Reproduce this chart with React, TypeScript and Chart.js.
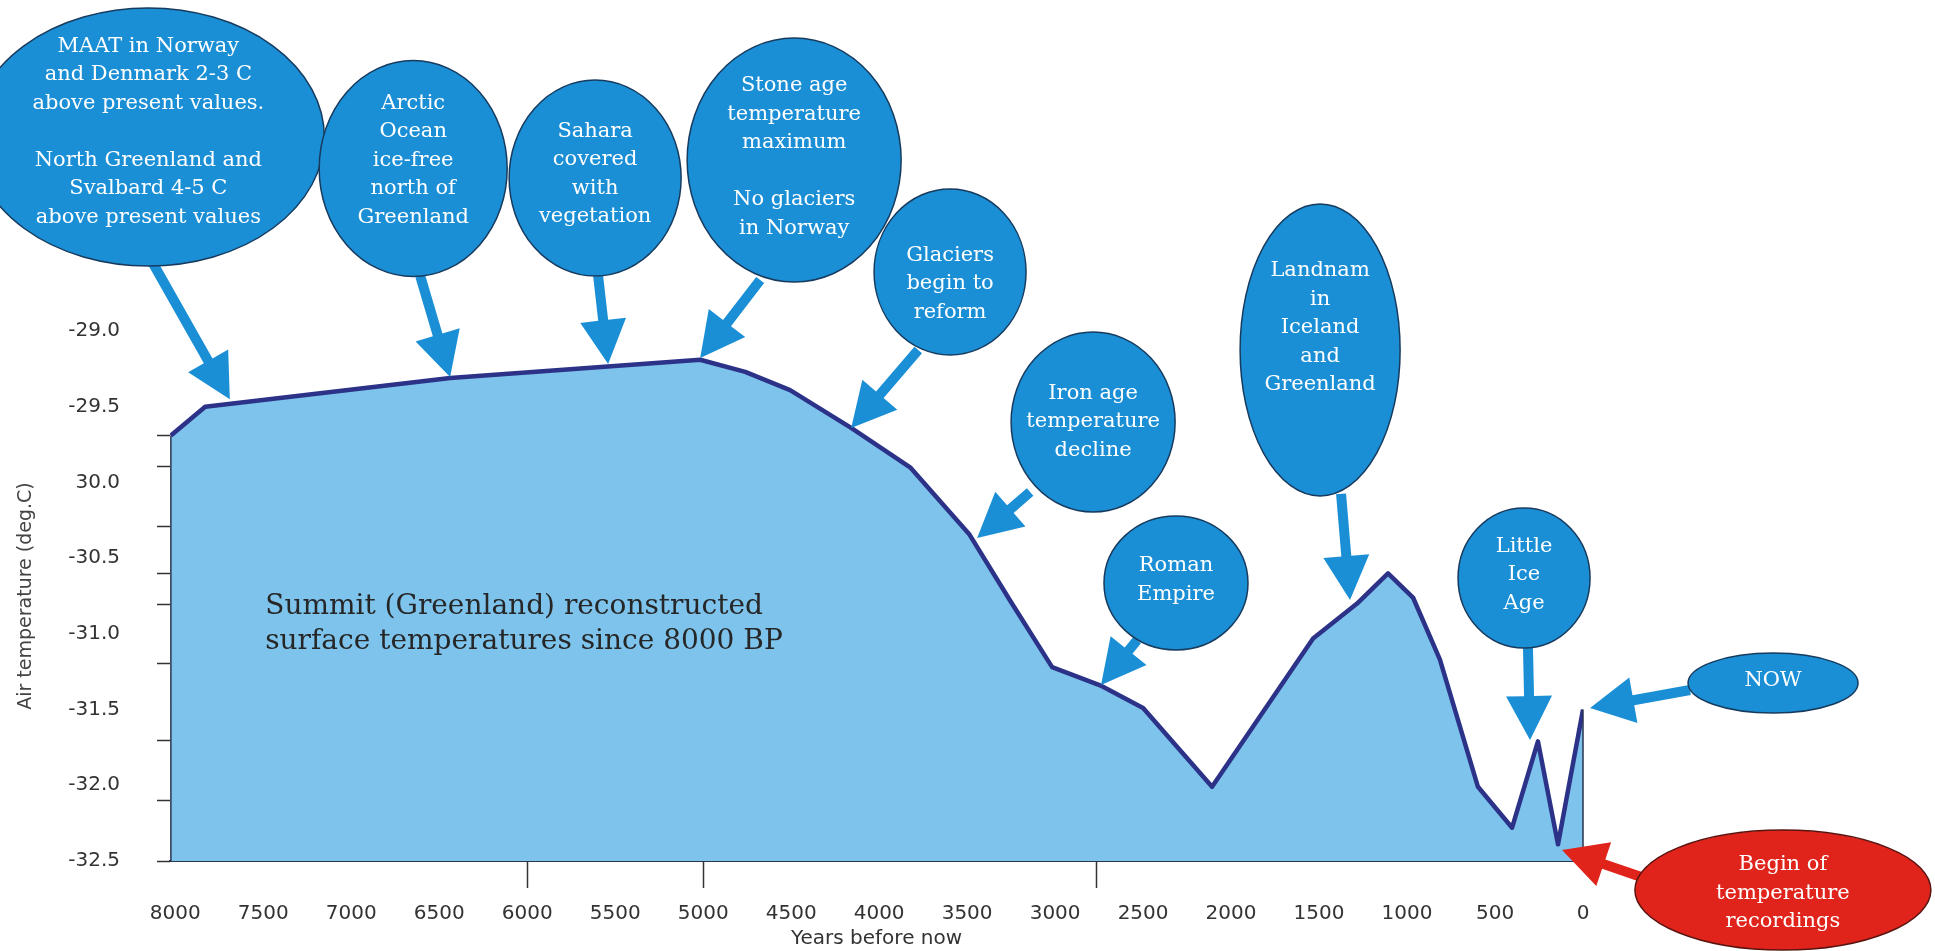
import React, { useEffect, useRef } from "react";
import { Chart, registerables } from "chart.js";

Chart.register(...registerables);

// ---------------- data ----------------
const YEARS_BP = [8025, 7830, 6437, 5017, 4761, 4506, 4159, 3824, 3489, 3256, 3017, 2744, 2500, 2108, 1534, 1284, 1108, 966, 813, 597, 403, 256, 142, 0];
const AIR_TEMP = [-29.69, -29.5, -29.31, -29.19, -29.27, -29.39, -29.64, -29.9, -30.34, -30.78, -31.22, -31.34, -31.49, -32.01, -31.03, -30.8, -30.6, -30.76, -31.17, -32.01, -32.28, -31.71, -32.39, -31.5];

const X_TICK_VALUES = [8000, 7500, 7000, 6500, 6000, 5500, 5000, 4500, 4000, 3500, 3000, 2500, 2000, 1500, 1000, 500, 0];
const X_TICK_MARKS = [6000, 5000, 2770];
const Y_TICK_VALUES = [-29.0, -29.5, -30.0, -30.5, -31.0, -31.5, -32.0, -32.5];
const Y_TICK_LABELS = ["-29.0", "-29.5", "30.0", "-30.5", "-31.0", "-31.5", "-32.0", "-32.5"];
const Y_TICK_MARKS = [-29.69, -29.89, -30.29, -30.6, -30.8, -31.19, -31.7, -32.1, -32.5];

const X_TITLE = "Years before now";
const Y_TITLE = "Air temperature (deg.C)";
const MAIN_LABEL = ["Summit (Greenland) reconstructed", "surface temperatures since 8000 BP"];
const MAIN_LABEL_ANCHOR = { year: 7489, temp: -30.82 };

// annotation bubbles (anchored in data space: year BP, temperature)
type Note = {
  lines: string[];
  cx: number; cy: number; rx: number; ry: number; dy?: number;
  from: [number, number]; to: [number, number];
  red?: boolean;
};
const NOTES: Note[] = [
  { lines: ["MAAT in Norway", "and Denmark 2-3 C", "above present values.", "", "North Greenland and", "Svalbard 4-5 C", "above present values"], cx: 8153, cy: -27.719, rx: 176, ry: 129, dy: -5, from: [8131, -28.544], to: [7690, -29.45] },
  { lines: ["Arctic", "Ocean", "ice-free", "north of", "Greenland"], cx: 6648, cy: -27.927, rx: 94, ry: 108, dy: -8, from: [6608, -28.637], to: [6438, -29.304] },
  { lines: ["Sahara", "covered", "with", "vegetation"], cx: 5614, cy: -27.99, rx: 86, ry: 98, dy: -4, from: [5597, -28.637], to: [5540, -29.218] },
  { lines: ["Stone age", "temperature", "maximum", "", "No glaciers", "in Norway"], cx: 4483, cy: -27.871, rx: 107, ry: 122, dy: -3, from: [4676, -28.663], to: [5017, -29.178] },
  { lines: ["Glaciers", "begin to", "reform"], cx: 3597, cy: -28.61, rx: 76, ry: 83, dy: 12, from: [3778, -29.125], to: [4159, -29.641] },
  { lines: ["Iron age", "temperature", "decline"], cx: 2784, cy: -29.601, rx: 82, ry: 90, from: [3142, -30.063], to: [3443, -30.367] },
  { lines: ["Roman", "Empire"], cx: 2313, cy: -30.664, rx: 72, ry: 67, dy: -3, from: [2534, -31.041], to: [2739, -31.338] },
  { lines: ["Landnam", "in", "Iceland", "and", "Greenland"], cx: 1494, cy: -29.125, rx: 80, ry: 146, dy: -22, from: [1375, -30.076], to: [1324, -30.776] },
  { lines: ["Little", "Ice", "Age"], cx: 335, cy: -30.631, rx: 66, ry: 70, dy: -3, from: [313, -31.08], to: [301, -31.701] },
  { lines: ["NOW"], cx: -1080, cy: -31.325, rx: 85, ry: 30, dy: -3, from: [-608, -31.371], to: [-40, -31.49] },
  { lines: ["Begin of", "temperature", "recordings"], cx: -1136, cy: -32.692, rx: 148, ry: 60, dy: 3, from: [-381, -32.625], to: [119, -32.427], red: true },
];

// ---------------- styles ----------------
const BLUE = "#1b8fd6";
const RED = "#e0241c";
const FILL = "#7dc3ec";
const LINE = "#2b3287";
const AXIS = "#2a3550";
const SANS = "'DejaVu Sans', sans-serif";
const SERIF = "'DejaVu Serif', serif";

function drawArrow(ctx: CanvasRenderingContext2D, x1: number, y1: number, x2: number, y2: number, color: string) {
  const ang = Math.atan2(y2 - y1, x2 - x1);
  const len = Math.hypot(x2 - x1, y2 - y1);
  const shaft = 10, headLen = 44, headW = 46;
  ctx.save();
  ctx.translate(x2, y2);
  ctx.rotate(ang);
  ctx.fillStyle = color;
  ctx.beginPath();
  ctx.moveTo(-len, -shaft / 2);
  ctx.lineTo(-headLen, -shaft / 2);
  ctx.lineTo(-headLen, -headW / 2);
  ctx.lineTo(0, 0);
  ctx.lineTo(-headLen, headW / 2);
  ctx.lineTo(-headLen, shaft / 2);
  ctx.lineTo(-len, shaft / 2);
  ctx.closePath();
  ctx.fill();
  ctx.restore();
}

const notesPlugin = {
  id: "notes",
  afterDatasetsDraw(chart: any) {
    const { ctx, chartArea } = chart;
    const xs = chart.scales.x;
    const ys = chart.scales.y;
    const px = (v: number) => xs.getPixelForValue(v);
    const py = (v: number) => ys.getPixelForValue(v);
    ctx.save();

    // side edges of the filled area
    const n = YEARS_BP.length;
    ctx.strokeStyle = AXIS;
    ctx.lineWidth = 1.5;
    ctx.beginPath();
    ctx.moveTo(px(YEARS_BP[0]), py(AIR_TEMP[0]));
    ctx.lineTo(px(YEARS_BP[0]), chartArea.bottom);
    ctx.moveTo(px(YEARS_BP[n - 1]), py(AIR_TEMP[n - 1]));
    ctx.lineTo(px(YEARS_BP[n - 1]), chartArea.bottom);
    ctx.stroke();

    // tick marks (as in the source figure)
    ctx.strokeStyle = "#333333";
    ctx.lineWidth = 1.5;
    ctx.beginPath();
    Y_TICK_MARKS.forEach((v) => {
      const y = Math.round(py(v)) + 0.5;
      ctx.moveTo(chartArea.left - 13, y);
      ctx.lineTo(chartArea.left, y);
    });
    X_TICK_MARKS.forEach((v) => {
      const x = Math.round(px(v)) + 0.5;
      ctx.moveTo(x, chartArea.bottom);
      ctx.lineTo(x, chartArea.bottom + 27);
    });
    ctx.stroke();

    // main label
    ctx.fillStyle = "#262626";
    ctx.font = `28px ${SERIF}`;
    ctx.textAlign = "left";
    ctx.textBaseline = "middle";
    const lx = px(MAIN_LABEL_ANCHOR.year);
    const ly = py(MAIN_LABEL_ANCHOR.temp);
    MAIN_LABEL.forEach((t, i) => ctx.fillText(t, lx, ly + i * 35));

    // arrows
    NOTES.forEach((nt) => {
      drawArrow(ctx, px(nt.from[0]), py(nt.from[1]), px(nt.to[0]), py(nt.to[1]), nt.red ? RED : BLUE);
    });

    // bubbles
    NOTES.forEach((nt) => {
      const cx = px(nt.cx);
      const cy = py(nt.cy);
      ctx.beginPath();
      ctx.ellipse(cx, cy, nt.rx, nt.ry, 0, 0, Math.PI * 2);
      ctx.fillStyle = nt.red ? RED : BLUE;
      ctx.fill();
      ctx.lineWidth = 1.5;
      ctx.strokeStyle = nt.red ? "#5a1410" : "#173b5e";
      ctx.stroke();
      ctx.fillStyle = "#ffffff";
      ctx.font = `21px ${SERIF}`;
      ctx.textAlign = "center";
      ctx.textBaseline = "middle";
      const lh = 28.5;
      const top = cy + (nt.dy || 0) - ((nt.lines.length - 1) * lh) / 2;
      nt.lines.forEach((t, i) => {
        if (t) ctx.fillText(t, cx, top + i * lh);
      });
    });

    ctx.restore();
  },
};

export default function App() {
  const ref = useRef<HTMLCanvasElement | null>(null);

  useEffect(() => {
    if (!ref.current) return;
    const chart = new Chart(ref.current, {
      type: "line",
      data: {
        datasets: [
          {
            data: YEARS_BP.map((yr, i) => ({ x: yr, y: AIR_TEMP[i] })),
            borderColor: LINE,
            borderWidth: 4.5,
            backgroundColor: FILL,
            fill: "start",
            pointRadius: 0,
            tension: 0,
            borderJoinStyle: "round",
          },
        ],
      },
      plugins: [notesPlugin],
      options: {
        animation: false,
        responsive: false,
        layout: { padding: { left: 0, top: 331, right: 352, bottom: 0 } },
        plugins: { legend: { display: false }, tooltip: { enabled: false } },
        scales: {
          x: {
            type: "linear",
            reverse: true,
            min: 0,
            max: 8030,
            afterBuildTicks: (s: any) => {
              s.ticks = X_TICK_VALUES.map((v) => ({ value: v }));
            },
            afterFit: (s: any) => {
              s.height = 90;
            },
            grid: {
              drawOnChartArea: false,
              drawTicks: true,
              tickLength: 27,
              color: "rgba(0,0,0,0)",
            },
            border: { display: true, color: AXIS, width: 2 },
            ticks: {
              padding: 14,
              color: "#333333",
              autoSkip: false,
              maxRotation: 0,
              font: { family: SANS, size: 20 },
              callback: (v: any) => String(v),
            },
            title: { display: true, text: X_TITLE, color: "#333333", font: { family: SANS, size: 20 }, padding: 0 },
          },
          y: {
            type: "linear",
            min: -32.5,
            max: -29.0,
            afterBuildTicks: (s: any) => {
              s.ticks = Y_TICK_VALUES.map((v) => ({ value: v }));
            },
            afterFit: (s: any) => {
              s.width = 170;
            },
            grid: {
              drawOnChartArea: false,
              drawTicks: true,
              tickLength: 13,
              color: "rgba(0,0,0,0)",
            },
            border: { display: false },
            ticks: {
              padding: 37,
              color: "#333333",
              font: { family: SANS, size: 20 },
              callback: (v: any) => {
                const i = Y_TICK_VALUES.indexOf(Number(v));
                return i >= 0 ? Y_TICK_LABELS[i] : "";
              },
            },
            title: { display: true, text: Y_TITLE, color: "#444444", font: { family: SANS, size: 19 }, padding: { top: 15, bottom: 0 } },
          },
        },
      } as any,
    });
    return () => chart.destroy();
  }, []);

  return (
    <div style={{ position: "fixed", left: 0, top: 0, width: 1935, height: 951, background: "#ffffff" }}>
      <canvas ref={ref} width={1935} height={951} style={{ display: "block", width: 1935, height: 951 }} />
    </div>
  );
}
